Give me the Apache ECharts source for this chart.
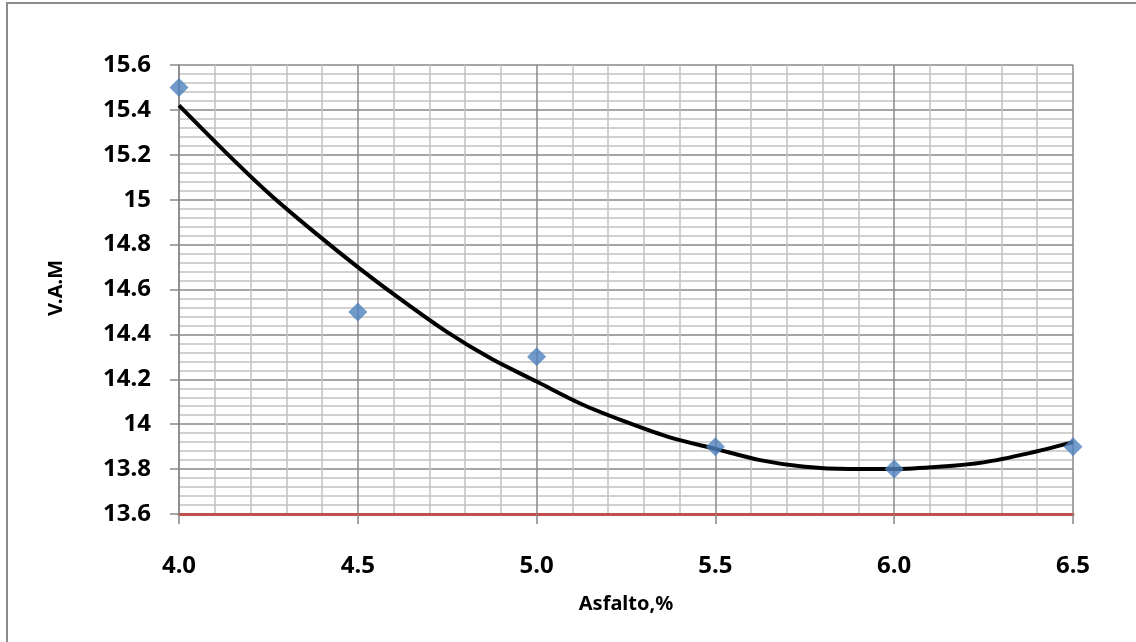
<!DOCTYPE html>
<html><head><meta charset="utf-8">
<script src="https://cdn.jsdelivr.net/npm/echarts@6/dist/echarts.min.js"></script>
<style>html,body{margin:0;padding:0;background:#fff}#c{width:1136px;height:642px}</style>
</head><body><div id="c"></div>
<script>
// Measured points
const asfalto = [4.0, 4.5, 5.0, 5.5, 6.0, 6.5];
const vam = [15.5, 14.5, 14.3, 13.9, 13.8, 13.9];
// Trend curve
const trendX = [4.0, 4.125, 4.25, 4.375, 4.5, 4.625, 4.75, 4.875, 5.0, 5.125, 5.25,
                5.375, 5.5, 5.625, 5.75, 5.875, 6.0, 6.125, 6.25, 6.375, 6.5];
const trendY = [15.42, 15.22, 15.03, 14.86, 14.70, 14.55, 14.41, 14.29, 14.19, 14.09, 14.01,
                13.94, 13.89, 13.84, 13.81, 13.80, 13.80, 13.81, 13.83, 13.87, 13.92];
// Axis labels
const xTitle = 'Asfalto,%';
const yTitle = 'V.A.M';

const FONT = '"Noto Sans", "Open Sans", sans-serif';
const chart = echarts.init(document.getElementById('c'));
chart.setOption({
  animation: false,
  backgroundColor: '#fff',
  graphic: [{
    type: 'rect', shape: {x: 7, y: 3, width: 1140, height: 650},
    style: {fill: 'none', stroke: '#8c8c8c', lineWidth: 2}, z: -10
  }, {
    type: 'text', left: 46, top: 260, rotation: Math.PI / 2,
    style: {text: yTitle, fontFamily: FONT, fontWeight: 'bold', fontSize: 20, fill: '#000'}
  }],
  grid: {left: 179, right: 63, top: 65, bottom: 128},
  xAxis: {
    type: 'value', min: 4, max: 6.5, interval: 0.5,
    name: xTitle, nameLocation: 'middle', nameGap: 80,
    nameTextStyle: {fontFamily: FONT, fontWeight: 'bold', fontSize: 20, color: '#000'},
    axisLine: {show: true, lineStyle: {color: '#C0504D', width: 3}},
    axisTick: {show: true, length: 10, lineStyle: {color: '#868686', width: 1.5}},
    axisLabel: {margin: 40, fontFamily: FONT, fontWeight: 'bold', fontSize: 24, color: '#000',
      formatter: v => v.toFixed(1)},
    splitLine: {show: true, lineStyle: {color: '#888', width: 1.5}},
    minorTick: {show: false, splitNumber: 5},
    minorSplitLine: {show: true, lineStyle: {color: '#c2c2c2', width: 1.5}}
  },
  yAxis: {
    type: 'value', min: 13.6, max: 15.6, interval: 0.2,
    axisLine: {show: true, lineStyle: {color: '#888', width: 1.5}},
    axisTick: {show: true, length: 9, lineStyle: {color: '#888', width: 1.5}},
    axisLabel: {margin: 28, fontFamily: FONT, fontWeight: 'bold', fontSize: 24, color: '#000',
      formatter: v => String(Math.round(v * 10) / 10)},
    splitLine: {show: true, lineStyle: {color: '#888', width: 1.5}},
    minorTick: {show: false, splitNumber: 5},
    minorSplitLine: {show: true, lineStyle: {color: '#c2c2c2', width: 1.5}}
  },
  series: [
    {
      type: 'line', data: trendX.map((x, i) => [x, trendY[i]]),
      smooth: 0.3, showSymbol: false, symbol: 'none',
      lineStyle: {color: '#000', width: 4}, z: 3
    },
    {
      type: 'scatter', data: asfalto.map((x, i) => [x, vam[i]]),
      symbol: 'diamond', symbolSize: 19,
      itemStyle: {color: '#4F81BD'}, z: 5
    }
  ]
});
</script></body></html>
